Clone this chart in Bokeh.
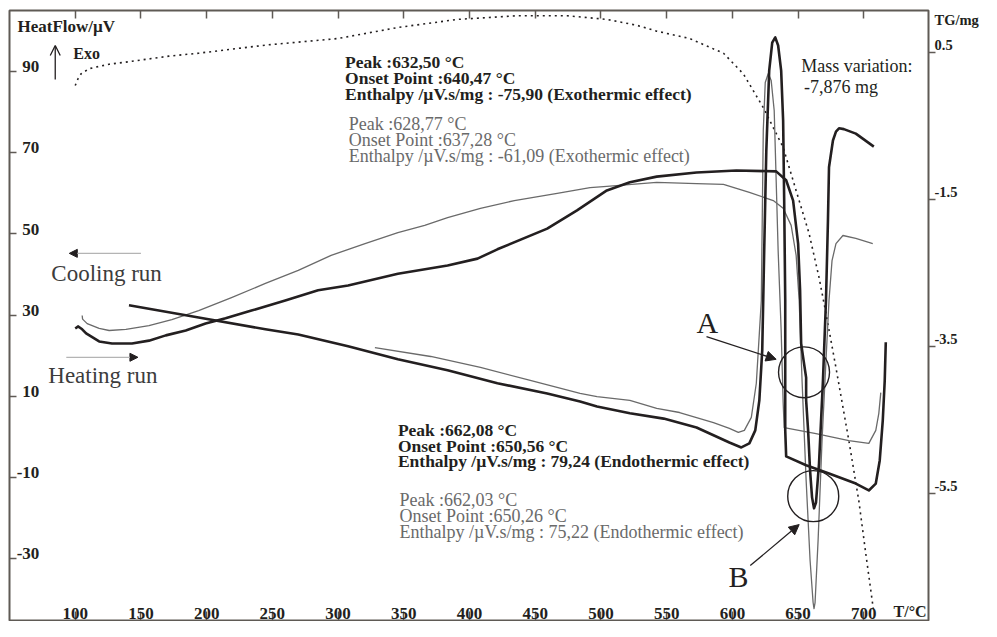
from bokeh.plotting import figure
from bokeh.models import (Range1d, LinearAxis, FixedTicker, Label, Arrow,
                          NormalHead, OpenHead, CustomJSTickFormatter)
from bokeh.embed import file_html
from bokeh.resources import INLINE

# ---------------- data ----------------
x_ticks = [100, 150, 200, 250, 300, 350, 400, 450, 500, 550, 600, 650, 700]
hf_ticks = [90, 70, 50, 30, 10, -10, -30]
tg_ticks = [0.5, -1.5, -3.5, -5.5]

# heating run, sample 1 (thick)
heat1_T = [100.0, 102.3, 105.3, 108.3, 118.2, 128.0, 143.2, 156.1, 168.9, 184.1,
           199.2, 214.4, 234.1, 259.8, 284.8, 307.6, 345.5, 383.3, 406.1, 421.2,
           459.1, 481.8, 504.5, 522.0, 542.4, 572.7, 603.0, 633.3, 640.9, 646.2,
           650.0, 651.5, 652.3, 653.8, 656.1, 656.1, 657.6, 659.1, 660.6, 662.1,
           663.6, 665.9, 668.9, 671.2, 672.7, 673.5, 676.5, 678.8, 681.1, 684.8,
           693.9, 707.6]
heat1_hf = [26.7, 27.2, 26.5, 25.5, 23.5, 23.0, 23.0, 23.7, 25.0, 26.2,
            27.9, 29.2, 31.1, 33.6, 36.1, 37.3, 40.2, 42.2, 43.9, 46.2,
            51.3, 55.8, 60.7, 62.7, 64.1, 65.1, 65.6, 65.4, 63.2, 58.2,
            47.6, 36.1, 23.0, 19.6, 14.6, 9.0, 1.6, -8.3, -14.9, -17.6,
            -16.2, -6.6, 13.9, 33.6, 53.3, 66.4, 73.0, 75.2, 76.0, 75.8,
            74.7, 71.5]

# heating run, sample 2 (thin grey)
heat2_T = [105.3, 105.6, 109.1, 118.2, 125.8, 138.6, 156.1, 173.5, 193.9, 218.9,
           244.7, 269.7, 294.7, 320.5, 345.5, 365.9, 383.3, 408.3, 434.1, 466.7,
           491.7, 504.5, 542.4, 572.7, 593.2, 612.9, 631.1, 638.6, 644.7, 648.5,
           650.8, 653.0, 656.1, 659.1, 661.4, 662.1, 662.9, 665.2, 668.2, 671.2,
           673.5, 675.8, 678.8, 684.1, 693.9, 706.8]
heat2_hf = [29.9, 29.0, 27.9, 26.7, 26.2, 26.5, 27.4, 28.9, 31.1, 34.3,
            37.8, 41.0, 44.7, 47.6, 50.3, 52.1, 54.0, 56.3, 58.2, 60.0,
            61.4, 61.7, 62.7, 62.4, 62.2, 60.2, 58.2, 56.3, 52.1, 44.7,
            33.6, 13.9, -10.7, -30.4, -40.8, -42.3, -40.8, -25.5, -0.9, 18.8,
            33.6, 43.4, 47.6, 49.6, 48.9, 47.6]

# cooling run, sample 1 (thick)
cool1_T = [716.7, 715.9, 714.4, 712.1, 709.1, 703.8, 693.9, 673.5, 656.1, 640.9,
           640.2, 640.2, 639.4, 638.6, 637.1, 634.8, 632.6, 630.3, 628.0, 625.8,
           624.2, 622.7, 620.5, 617.4, 612.9, 606.8, 597.7, 572.7, 547.7, 522.0,
           497.0, 484.1, 459.1, 421.2, 383.3, 345.5, 307.6, 269.7, 244.7, 193.9,
           140.9]
cool1_hf = [23.3, 13.9, 4.0, -5.8, -11.5, -13.2, -11.5, -9.0, -7.0, -4.8,
            1.6, 33.6, 58.2, 77.9, 90.2, 96.4, 98.4, 97.1, 90.2, 70.5,
            45.9, 21.3, 9.0, 1.6, -1.6, -2.6, -1.4, 2.3, 4.5, 5.8,
            7.5, 8.7, 10.7, 13.2, 16.4, 19.1, 22.3, 25.2, 26.5, 29.4,
            32.4]

# cooling run, sample 2 (thin grey)
cool2_T = [712.9, 711.4, 709.1, 703.8, 688.6, 663.6, 639.4, 638.6, 637.1, 634.8,
           633.3, 631.8, 629.5, 627.3, 625.0, 623.5, 622.7, 622.0, 620.5, 618.2,
           614.4, 609.1, 604.5, 597.7, 585.6, 559.8, 542.4, 522.0, 497.0, 484.1,
           446.2, 408.3, 370.5, 328.0]
cool2_hf = [10.9, 5.8, 1.6, -1.6, -0.9, 0.8, 2.3, 8.6, 26.2, 45.9,
            63.2, 80.4, 87.8, 89.5, 87.3, 75.5, 53.3, 33.6, 25.5, 13.2,
            4.8, 1.6, 1.1, 2.1, 3.5, 6.0, 7.0, 9.0, 9.9, 10.7,
            13.9, 17.1, 19.8, 22.0]

# thermogravimetry (dotted, right axis)
tg_T = [100.0, 102.3, 104.5, 110.6, 125.8, 143.2, 171.2, 193.9, 244.7, 300.0,
        345.5, 390.9, 436.4, 474.2, 504.5, 527.3, 542.4, 567.4, 593.2, 608.3,
        623.5, 638.6, 648.5, 658.3, 665.9, 671.2, 678.8, 688.6, 696.2, 701.5,
        707.6]
tg_mg = [0.05, 0.15, 0.21, 0.28, 0.34, 0.38, 0.45, 0.49, 0.60, 0.69,
         0.84, 0.95, 1.00, 1.00, 0.95, 0.87, 0.79, 0.69, 0.49, 0.21,
         -0.25, -0.79, -1.38, -1.96, -2.56, -3.05, -3.79, -4.78, -5.60, -6.32,
         -7.12]

# circled regions A and B
circle_T = [654.5, 661.5]
circle_hf = [15.9, -14.6]

# right-axis title, shown at the top of the TG axis
tg_title, tg_title_at = "TG/mg", 0.835

# ---------------- styling ----------------
INK = "#231f20"
GREY = "#6a6a6a"
FRAME = "#5f5a55"
SERIF = "Liberation Serif"
PX_PER_HF = 4.06

X0, X1 = 50.0, 749.2
Y0, Y1 = -45.23, 105.02
TG0, TG1 = -7.228, 1.071

p = figure(width=981, height=621, x_range=Range1d(X0, X1), y_range=Range1d(Y0, Y1),
           output_backend="svg", toolbar_location=None,
           x_axis_location=None, y_axis_location=None,
           min_border_left=9, min_border_right=40, min_border_top=10, min_border_bottom=1)
p.grid.visible = False
p.outline_line_color = FRAME
p.outline_line_width = 2
p.background_fill_color = "white"
p.border_fill_color = "white"

p.extra_y_ranges = {
    "tg": Range1d(TG0, TG1),
    "tg_lbl": Range1d(TG0 - 0.1, TG1 - 0.1),
    "hf_lbl": Range1d(Y0 - 1.2, Y1 - 1.2),
}

blank = CustomJSTickFormatter(code="return ''")
plain = CustomJSTickFormatter(code="return tick.toString()")

def style_labels(ax, size="17px"):
    ax.major_label_text_font = SERIF
    ax.major_label_text_font_style = "bold"
    ax.major_label_text_font_size = size
    ax.major_label_text_color = INK
    ax.axis_line_color = None
    ax.major_tick_line_color = FRAME
    ax.major_tick_line_width = 1.5
    ax.minor_tick_line_color = None
    ax.axis_label_standoff = 0

# bottom axis (ticks pointing up, labels inside the frame)
ax_b = LinearAxis(fixed_location=Y0, ticker=FixedTicker(ticks=x_ticks), formatter=plain,
                  major_tick_out=9, major_tick_in=0, major_label_standoff=-7)
style_labels(ax_b, "17px")
p.add_layout(ax_b, "above")

# top tick marks
ax_t = LinearAxis(fixed_location=Y1, ticker=FixedTicker(ticks=x_ticks),
                  major_tick_out=8, major_tick_in=0, formatter=blank)
style_labels(ax_t)
p.add_layout(ax_t, "below")

# left HeatFlow axis: tick marks pointing in, labels inside the frame
ax_lt = LinearAxis(fixed_location=X0, ticker=FixedTicker(ticks=hf_ticks),
                   major_tick_out=7, major_tick_in=0, formatter=blank)
style_labels(ax_lt)
p.add_layout(ax_lt, "right")

ax_ll = LinearAxis(fixed_location=72.7, y_range_name="hf_lbl",
                   ticker=FixedTicker(ticks=hf_ticks), formatter=plain,
                   major_tick_out=0, major_tick_in=0, major_label_standoff=0)
style_labels(ax_ll, "17px")
p.add_layout(ax_ll, "left")

# right TG axis: tick marks, then labels (plus the axis title at the top)
ax_rt = LinearAxis(y_range_name="tg", ticker=FixedTicker(ticks=tg_ticks),
                   major_tick_out=7, major_tick_in=0, major_label_standoff=0,
                   formatter=blank)
style_labels(ax_rt)
p.add_layout(ax_rt, "right")

ax_rl = LinearAxis(y_range_name="tg_lbl", ticker=FixedTicker(ticks=tg_ticks + [tg_title_at]),
                   formatter=plain, major_label_overrides={tg_title_at: tg_title},
                   major_tick_out=0, major_tick_in=0, major_label_standoff=-1)
style_labels(ax_rl, "14.5px")
p.add_layout(ax_rl, "right")

# ---------------- curves ----------------
p.line(tg_T, tg_mg, y_range_name="tg", line_color=INK, line_width=1.6,
       line_dash="2 4")
p.line(heat2_T, heat2_hf, line_color=GREY, line_width=1.3, line_join="round")
p.line(cool2_T, cool2_hf, line_color=GREY, line_width=1.3, line_join="round")
p.line(heat1_T, heat1_hf, line_color=INK, line_width=2.6, line_join="round")
p.line(cool1_T, cool1_hf, line_color=INK, line_width=2.6, line_join="round")

p.scatter(circle_T, circle_hf, marker="circle", size=51, fill_color=None,
          line_color=INK, line_width=1.4)

# ---------------- annotations ----------------
def txt(x, y, s, size=16, bold=False, color=INK, align="left"):
    # y is the text baseline; compensate the renderer's baseline shift
    p.add_layout(Label(x=x, y=y + 0.35 * size / PX_PER_HF, text=s, text_font=SERIF,
                       text_font_size=f"{size}px",
                       text_font_style="bold" if bold else "normal",
                       text_color=color, text_baseline="alphabetic",
                       text_align=align))

txt(56.1, 99.7, "HeatFlow/µV", 17, True)
txt(98.5, 93.1, "Exo", 16, True)
p.add_layout(Arrow(x_start=84.8, y_start=88.0, x_end=84.8, y_end=96.4,
                   line_color=INK, line_width=1.3,
                   end=OpenHead(size=10, line_color=INK, line_width=1.3)))

txt(305.3, 90.9, "Peak :632,50 °C", 17.5, True)
txt(305.3, 86.9, "Onset Point :640,47 °C", 17.5, True)
txt(305.3, 83.0, "Enthalpy /µV.s/mg : -75,90 (Exothermic effect)", 17.5, True)

txt(308.1, 75.6, "Peak :628,77 °C", 18, False, GREY)
txt(308.1, 71.5, "Onset Point :637,28 °C", 18, False, GREY)
txt(308.1, 67.7, "Enthalpy /µV.s/mg : -61,09 (Exothermic effect)", 18, False, GREY)

txt(652.3, 89.8, "Mass variation:", 18, False, INK)
txt(654.5, 84.6, "-7,876 mg", 18, False, INK)

txt(81.8, 38.3, "Cooling run", 23, False, "#3c3c3c")
txt(79.5, 13.2, "Heating run", 23, False, "#3c3c3c")
p.add_layout(Arrow(x_start=150.0, y_start=45.2, x_end=95.5, y_end=45.2,
                   line_color="#b4b4b4", line_width=1.2,
                   end=NormalHead(size=8, fill_color=INK, line_color=INK, line_width=1)))
p.add_layout(Arrow(x_start=93.2, y_start=19.6, x_end=147.7, y_end=19.6,
                   line_color="#b4b4b4", line_width=1.2,
                   end=NormalHead(size=8, fill_color=INK, line_color=INK, line_width=1)))

txt(345.5, 0.1, "Peak :662,08 °C", 17.5, True)
txt(345.5, -3.8, "Onset Point :650,56 °C", 17.5, True)
txt(345.5, -7.5, "Enthalpy /µV.s/mg : 79,24 (Endothermic effect)", 17.5, True)

txt(346.7, -17.1, "Peak :662,03 °C", 18, False, GREY)
txt(346.7, -21.0, "Onset Point :650,26 °C", 18, False, GREY)
txt(346.7, -25.1, "Enthalpy /µV.s/mg : 75,22 (Endothermic effect)", 18, False, GREY)

txt(572.7, 25.5, "A", 30, False, INK)
txt(597.0, -37.1, "B", 30, False, INK)
p.add_layout(Arrow(x_start=580.3, y_start=24.7, x_end=633.3, y_end=19.1,
                   line_color=INK, line_width=1.3,
                   end=NormalHead(size=10, fill_color=INK, line_color=INK, line_width=1)))
p.add_layout(Arrow(x_start=613.6, y_start=-31.7, x_end=650.8, y_end=-21.6,
                   line_color=INK, line_width=1.3,
                   end=NormalHead(size=10, fill_color=INK, line_color=INK, line_width=1)))

txt(747.8, -44.3, "T/°C", 16, True, INK, "right")

with open("out.html", "w") as f:
    f.write(file_html(p, INLINE))
